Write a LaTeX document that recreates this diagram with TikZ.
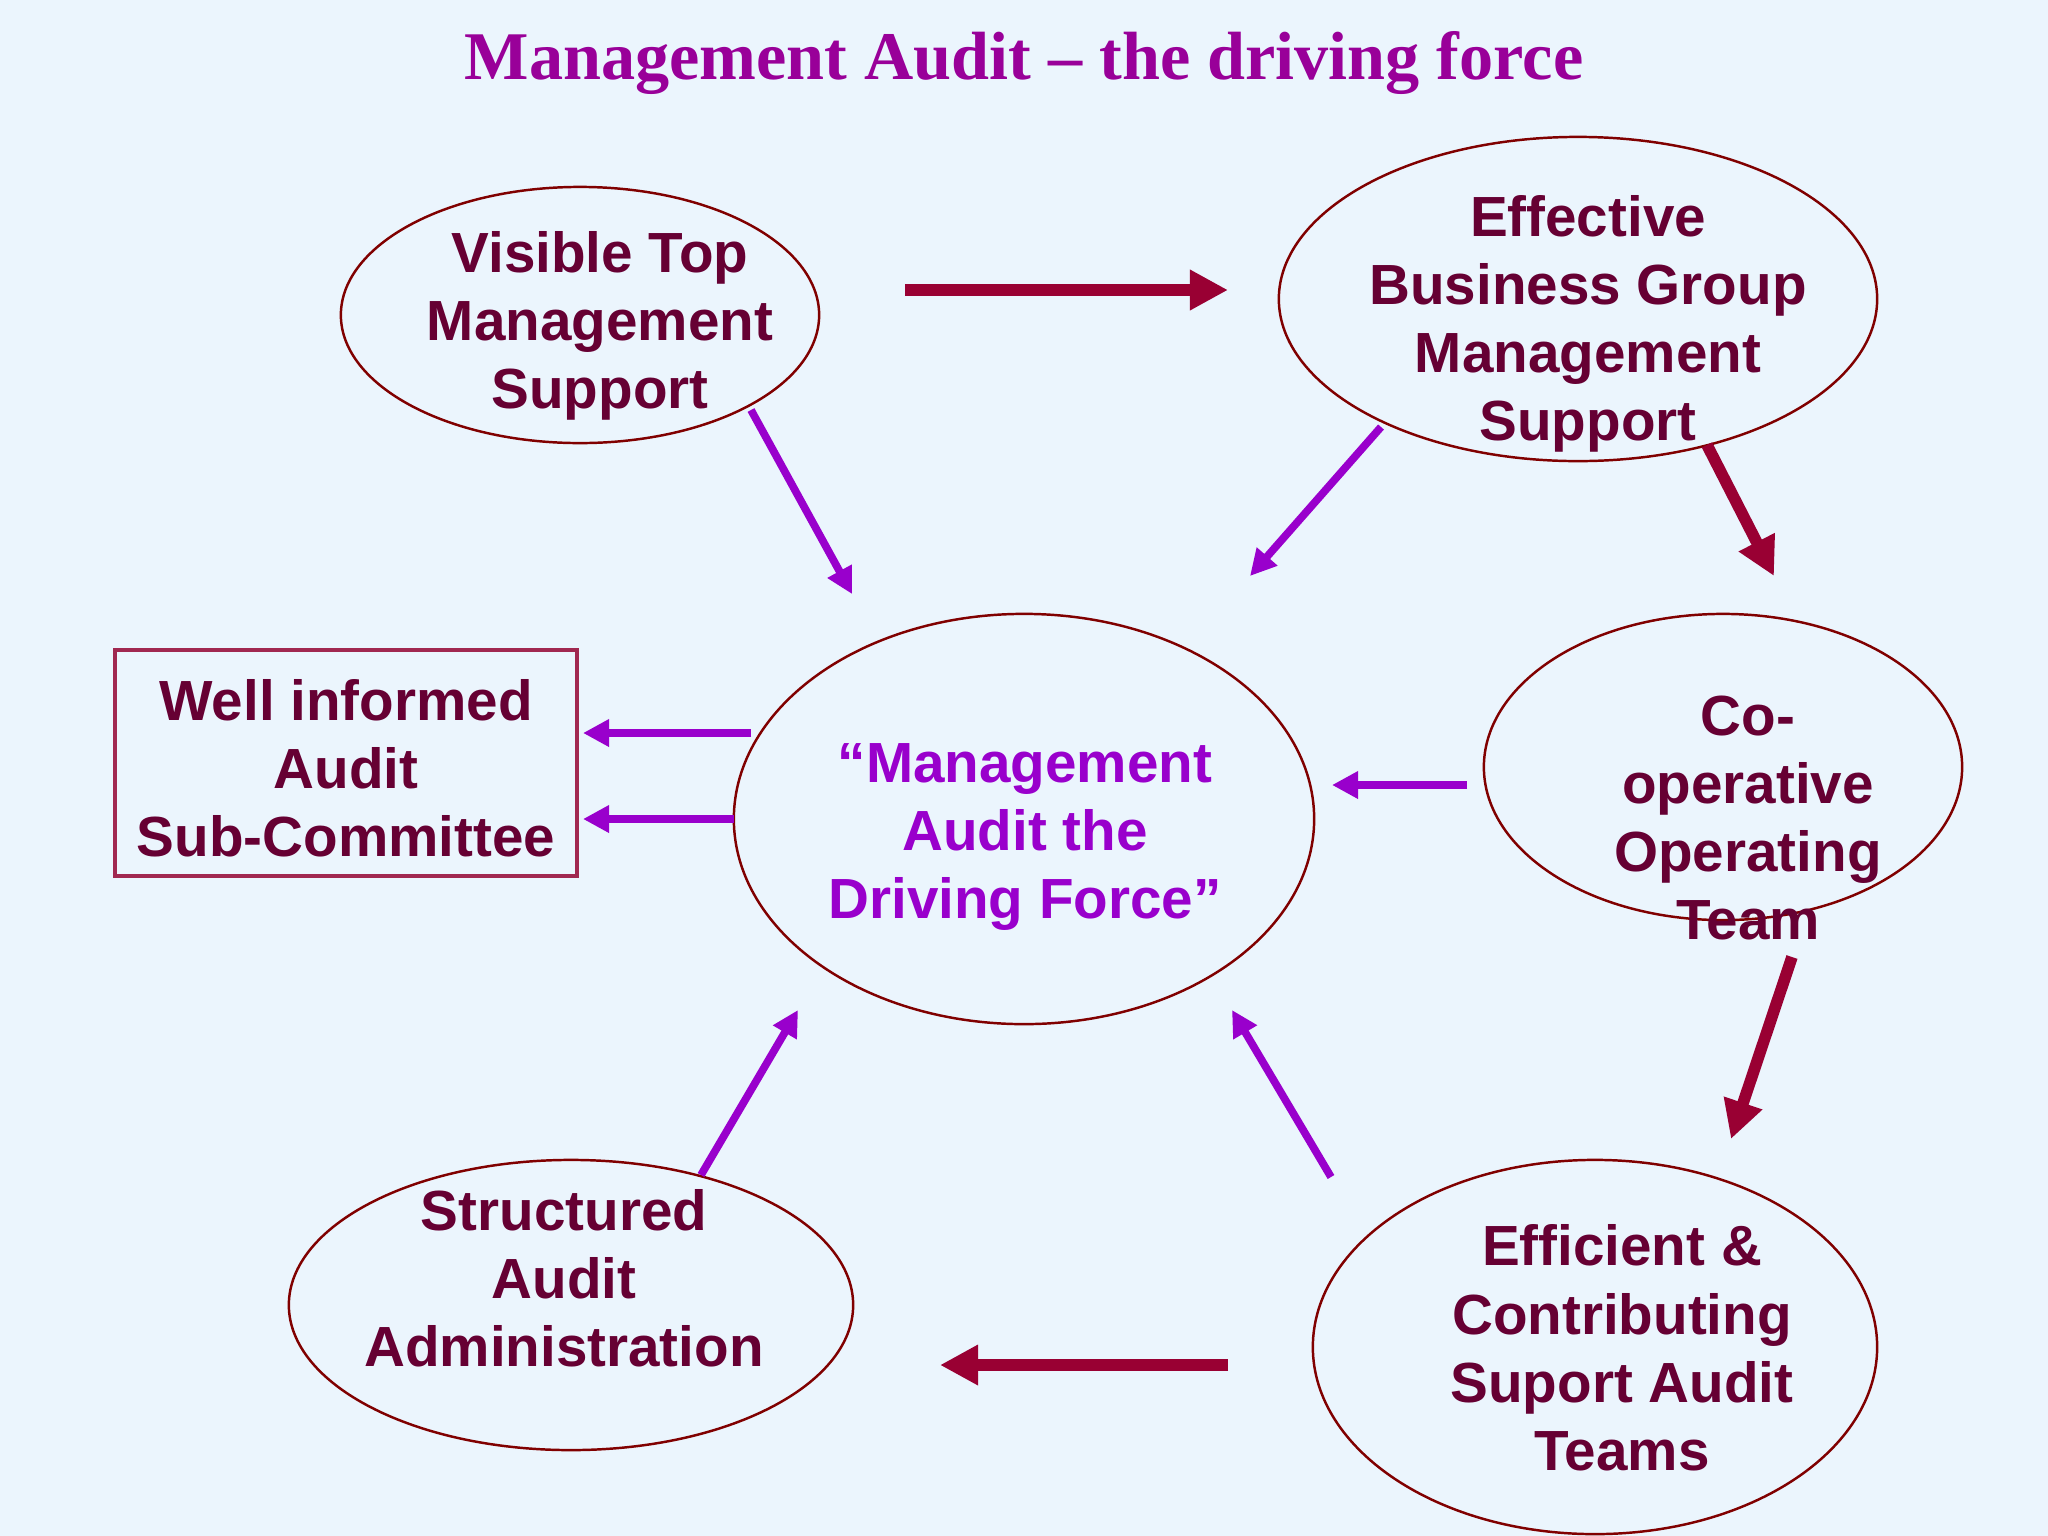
\documentclass[tikz,border=0pt]{standalone}
\usepackage{fontspec}
\setmainfont{Liberation Serif}
\newfontfamily\lsans{Liberation Sans}
\usetikzlibrary{arrows.meta,shapes.geometric}
\definecolor{bgc}{RGB}{235,245,253}
\definecolor{txtc}{RGB}{102,0,51}
\definecolor{maroon}{RGB}{153,0,51}
\definecolor{purp}{RGB}{153,0,204}
\definecolor{ttl}{RGB}{153,0,153}
\definecolor{edge}{RGB}{128,0,0}
\definecolor{boxedge}{RGB}{160,40,80}
\tikzset{
  blob/.style={ellipse,draw=edge,line width=0.7pt,inner sep=0pt},
  lbl/.style={align=center,text=txtc,font=\lsans\bfseries\fontsize{16.1pt}{19.4pt}\selectfont,inner sep=0pt},
  clbl/.style={lbl,text=purp},
  bigarrow/.style={draw=maroon,line width=3.3pt,-{Triangle[length=0.38cm,width=0.38cm]}},
  thinarrow/.style={draw=purp,line width=2.2pt,-{Triangle[length=0.26cm,width=0.26cm]}},
}
\begin{document}
\begin{tikzpicture}[x=0.01cm,y=-0.01cm]
\fill[bgc] (0,0) rectangle (2048,1536);
\useasboundingbox (0,0) rectangle (2048,1536);
\node[font=\bfseries\fontsize{19.4pt}{24pt}\selectfont,text=ttl,inner sep=0pt] (title) at (1024,63) {Management Audit – the driving force};
% ellipses
\node[blob,minimum width=4.78cm,minimum height=2.56cm] (vis) at (580,315) {};
\node[blob,minimum width=5.98cm,minimum height=3.24cm] (eff) at (1578,299) {};
\node[blob,minimum width=5.80cm,minimum height=4.10cm] (mid) at (1024,819) {};
\node[blob,minimum width=4.78cm,minimum height=3.06cm] (coop) at (1723,767) {};
\node[blob,minimum width=5.64cm,minimum height=2.90cm] (str) at (571,1305) {};
\node[blob,minimum width=5.64cm,minimum height=3.74cm] (ecs) at (1595,1347) {};
\node[draw=boxedge,line width=1pt,minimum width=4.62cm,minimum height=2.26cm,inner sep=0pt] (box) at (346,763) {};
% labels
\node[lbl] (visT) at (600,326) {Visible Top\\Management\\Support};
\node[lbl] (effT) at (1588,324) {Effective\\Business Group\\Management\\Support};
\node[clbl] (midT) at (1025,837) {“Management\\Audit the\\Driving Force”};
\node[lbl] (coopT) at (1748,818) {Co-\\operative\\Operating\\Team};
\node[lbl] (strT) at (564,1278) {Structured\\Audit\\Administration};
\node[lbl] (ecsT) at (1622,1348) {Efficient \&\\Contributing\\Suport Audit\\Teams};
\node[lbl] (boxT) at (346,768) {Well informed\\Audit\\Sub-Committee};
% arrow end points
\coordinate (a1s) at (905,290);  \coordinate (a1e) at (1228,290);
\coordinate (a2s) at (1707,445); \coordinate (a2e) at (1774,576);
\coordinate (a3s) at (1792,957); \coordinate (a3e) at (1731,1139);
\coordinate (a4s) at (1228,1365);\coordinate (a4e) at (940,1365);
\coordinate (p1s) at (751,410);  \coordinate (p1e) at (852,594);
\coordinate (p2s) at (1381,427); \coordinate (p2e) at (1250,576);
\coordinate (p3s) at (1467,785); \coordinate (p3e) at (1332,785);
\coordinate (p4s) at (751,733);  \coordinate (p4e) at (583,733);
\coordinate (p5s) at (734,819);  \coordinate (p5e) at (583,819);
\coordinate (p6s) at (701,1175); \coordinate (p6e) at (798,1010);
\coordinate (p7s) at (1331,1177);\coordinate (p7e) at (1232,1010);
\draw[bigarrow] (a1s) -- (a1e);
\draw[bigarrow] (a2s) -- (a2e);
\draw[bigarrow] (a3s) -- (a3e);
\draw[bigarrow] (a4s) -- (a4e);
\draw[thinarrow] (p1s) -- (p1e);
\draw[thinarrow] (p2s) -- (p2e);
\draw[thinarrow] (p3s) -- (p3e);
\draw[thinarrow] (p4s) -- (p4e);
\draw[thinarrow] (p5s) -- (p5e);
\draw[thinarrow] (p6s) -- (p6e);
\draw[thinarrow] (p7s) -- (p7e);
\end{tikzpicture}
\end{document}
